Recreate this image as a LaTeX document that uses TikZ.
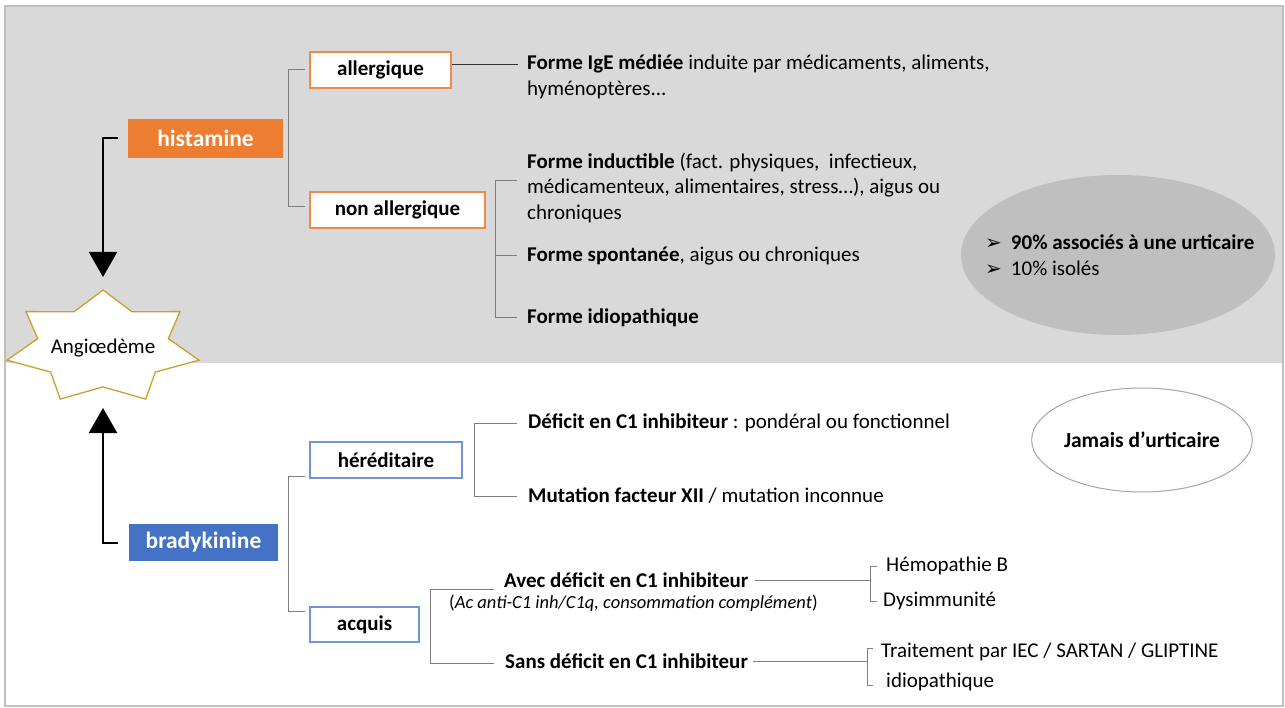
\documentclass[tikz,border=0pt]{standalone}
\usepackage{fontspec}
\setmainfont{Carlito}
\newfontfamily\symfont{DejaVu Sans}
\usetikzlibrary{arrows.meta,shapes.geometric}
\definecolor{histo}{HTML}{ED7D31}
\definecolor{histoline}{HTML}{F0894A}
\definecolor{brady}{HTML}{4472C4}
\definecolor{bradyline}{HTML}{7094D6}
\definecolor{topgray}{HTML}{D9D9D9}
\definecolor{framegray}{HTML}{BFBFBF}
\definecolor{ellgray}{HTML}{BFBFBF}
\definecolor{ellline}{HTML}{A6A6A6}
\definecolor{brkgray}{HTML}{7F7F7F}
\definecolor{gold}{HTML}{C9A030}
\begin{document}
\begin{tikzpicture}[x=1pt,y=-1pt,
  txt/.style={anchor=west,inner sep=0pt,align=left,font=\fontsize{21}{25.5}\selectfont},
  obox/.style={draw=histoline,line width=1.5pt,fill=white,inner sep=0pt,minimum height=36pt,font=\fontsize{21}{25}\selectfont\bfseries},
  bbox/.style={obox,draw=bradyline},
  mainbox/.style={inner sep=0pt,text=white,font=\fontsize{23.5}{28}\selectfont\bfseries},
  brk/.style={draw=brkgray,line width=1pt},
  ln/.style={draw=black!80,line width=1pt},
  arr/.style={line width=2pt,-{Triangle[width=28pt,length=25pt]}}]
\useasboundingbox (0,0) rectangle (1285,708);
\fill[white] (0,0) rectangle (1285,708);
\fill[topgray] (5,6) rectangle (1283,363);
\draw[framegray,line width=1.5pt] (5,6) rectangle (1283,706);

\node[ellipse,fill=ellgray,minimum width=314pt,minimum height=160pt,inner sep=0pt] (ell1) at (1118,255) {};
\node[txt] (pct) at (985,255) {{\symfont\fontsize{20}{24}\selectfont ➢}\hspace{9pt}\textbf{90\% associés à une urticaire}\\{\symfont\fontsize{20}{24}\selectfont ➢}\hspace{9pt}10\% isolés};
\node[ellipse,draw=ellline,line width=1pt,minimum width=194pt,minimum height=104pt,inner sep=0pt,font=\fontsize{21.5}{25}\selectfont\bfseries] (ell2) at (1142,440) {Jamais d’urticaire};

\draw[gold,line width=1.3pt,fill=white] plot[samples at={0,...,13}] ({103+ifthenelse(mod(\x,2)==0,98.5,67)*cos(90+\x*180/7)},{347.4-ifthenelse(mod(\x,2)==0,57.4,39.5)*sin(90+\x*180/7)}) -- cycle;
\node[inner sep=0pt,font=\fontsize{21}{25}\selectfont] (ae) at (103,348) {Angiœdème};

\node[mainbox,fill=histo,minimum width=155pt,minimum height=39pt] (hist) at (205.5,138.5) {histamine};
\node[mainbox,fill=brady,minimum width=149pt,minimum height=37pt] (brady) at (203.5,542.5) {bradykinine};
\node[obox,minimum width=141pt] (allerg) at (380.5,70) {allergique};
\node[obox,minimum width=175pt] (nonall) at (397.5,210) {non allergique};
\node[bbox,minimum width=152pt] (hered) at (386,460) {héréditaire};
\node[bbox,minimum width=109pt,minimum height=35pt] (acq) at (364.5,624.5) {acquis};

\node[txt] (igE) at (527,77) {\textbf{Forme IgE médiée} induite par médicaments, aliments,\\hyménoptères...};
\node[txt] (induc) at (527,188) {\textbf{Forme inductible} (fact. physiques,\ \ infectieux,\\médicamenteux, alimentaires, stress…), aigus ou\\chroniques};
\node[txt] (spont) at (527,256) {\textbf{Forme spontanée}, aigus ou chroniques};
\node[txt] (idio) at (527,318) {\textbf{Forme idiopathique}};
\node[txt] (c1def) at (528,423) {\textbf{Déficit en C1 inhibiteur} : pondéral ou fonctionnel};
\node[txt] (mutxii) at (528,496) {\textbf{Mutation facteur XII} / mutation inconnue};
\node[txt] (avec) at (504,580) {\textbf{Avec déficit en C1 inhibiteur}};
\node[txt,font=\fontsize{18.5}{22}\selectfont] (avecnote) at (449,603) {(\textit{Ac anti-C1 inh/C1q, consommation complément})};
\node[txt] (sans) at (505,661) {\textbf{Sans déficit en C1 inhibiteur}};
\node[txt] (hemo) at (886,566) {Hémopathie B};
\node[txt] (dysim) at (883,601) {Dysimmunité};
\node[txt] (trait) at (881,652) {Traitement par IEC / SARTAN / GLIPTINE};
\node[txt] (idio2) at (886,682) {idiopathique};

\draw[arr] ([xshift=-10]hist.west) -| ([yshift=71]ae.center);
\draw[arr] ([xshift=-11]brady.west) -| ([yshift=-60]ae.center);

\draw[brk] ([xshift=-4]allerg.west) -- ++(-17,0) |- ([xshift=-4,yshift=3]nonall.west);
\coordinate (igEin) at (518,65);
\draw[ln] (allerg.east |- igEin) -- (igEin);
\coordinate (inT) at (517,181);
\draw[brk] (inT) -- ++(-22,0) |- ([xshift=-10]idio.west);
\draw[brk] ([xshift=-10]spont.west) -- ++(-22,0);

\draw[brk] ([xshift=-4,yshift=-16]hered.west) -- ++(-17,0) |- ([xshift=-4,yshift=13]acq.west);
\draw[brk] ([xshift=-11]c1def.west) -- ++(-43,0) |- ([xshift=-11]mutxii.west);
\draw[brk] ([xshift=-10,yshift=-9]avec.west) -- ++(-64,0) |- ([xshift=-11,yshift=-2]sans.west);
\draw[brk] ([xshift=-9]hemo.west) -- ++(-7,0) coordinate (kA) |- ([xshift=-6]dysim.west);
\draw[brk] ([xshift=7]avec.east) -- (kA |- avec.east);
\draw[brk] ([xshift=-8,yshift=4]trait.west) -- ++(-6,0) coordinate (kB) |- ([xshift=-13,yshift=-3]idio2.west);
\draw[brk] ([xshift=5]sans.east) -- (kB |- sans.east);
\end{tikzpicture}
\end{document}
